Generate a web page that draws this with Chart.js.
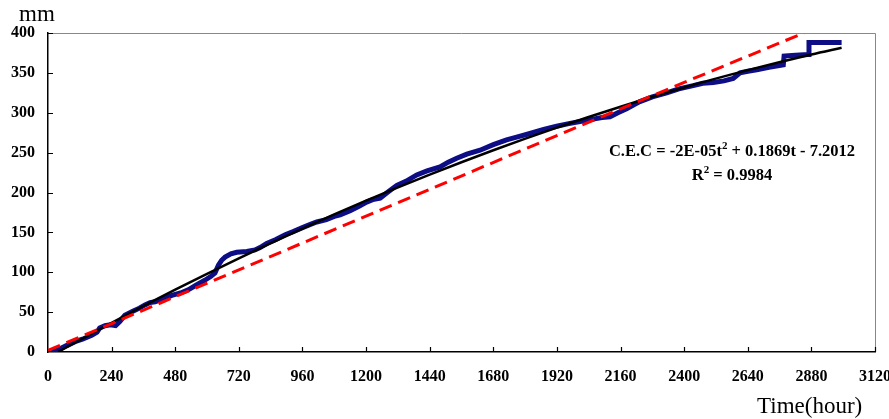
<!DOCTYPE html>
<html>
<head>
<meta charset="utf-8">
<script src="https://cdn.jsdelivr.net/npm/chart.js@4.4.1/dist/chart.umd.min.js"></script>
<style>
html, body { margin: 0; padding: 0; background: #fff; }
</style>
</head>
<body>
<canvas id="myChart" width="889" height="419"></canvas>
<script>
// observed cumulative values (blue)
const obsT = [14, 40, 70, 102, 130, 165, 185, 195, 215, 235, 255, 270, 290, 320, 345, 366, 385, 404, 430, 467,
    500, 529, 560, 592, 615, 630, 643, 655, 668, 690, 712, 750, 781, 800, 825, 860, 895, 925, 960, 990,
    1014, 1050, 1080, 1102, 1140, 1175, 1202, 1225, 1253, 1280, 1316, 1350, 1391, 1430, 1479, 1510, 1542, 1580, 1630, 1680,
    1730, 1775, 1818, 1870, 1919, 1960, 2007, 2057, 2090, 2120, 2150, 2183, 2210, 2233, 2280, 2334, 2380, 2434, 2470, 2510,
    2550, 2585, 2611, 2640, 2674, 2720, 2774, 2777, 2820, 2868, 2871, 2994];
const obsMm = [0, 3, 8, 13, 16, 21, 25, 30, 33, 34, 33, 38, 46, 51, 55, 59, 62, 63, 66, 71,
    74, 78, 84, 90, 95, 99, 109, 115, 119, 123, 125, 126, 128, 131, 136, 141, 147, 151, 156, 160,
    163, 166, 170, 172, 177, 183, 188, 191, 193, 200, 209, 214, 222, 227, 232, 238, 243, 248, 253, 260,
    266, 270, 274, 279, 283, 286, 289, 292, 294, 295, 300, 305, 310, 314, 320, 325, 330, 334, 337, 338,
    340, 343, 350, 352, 354, 357, 360, 371, 372, 373, 388, 388];

// fitted curve (black)
const fitT = [38, 240, 480, 720, 960, 1200, 1440, 1680, 1920, 2160, 2400, 2640, 2880, 2994];
const fitMm = [0, 36.6, 78.1, 117.5, 154.7, 189.7, 222.4, 253, 281.4, 307.6, 331.7, 353.4, 373.1, 381.6];

// red dashed line
const redT = [0, 720, 1440, 2160, 2880];
const redMm = [2, 103, 204, 305, 404];

const eqLeft = 'C.E.C = -2E-05t';
const eqSup = '2';
const eqRight = ' + 0.1869t - 7.2012';
const r2Text = ' = 0.9984';

function pts(xs, ys) {
    return xs.map((x, i) => ({ x: x, y: ys[i] }));
}

const tickFont = { family: "'Liberation Serif', 'Times New Roman', serif", size: 16, weight: 'bold' };

const extras = {
    id: 'extras',
    afterDraw(chart) {
        const c = chart.ctx;
        const a = chart.chartArea;
        const xs = chart.scales.x;
        const ys = chart.scales.y;
        c.save();
        // grey frame top and right
        c.strokeStyle = '#888';
        c.lineWidth = 1;
        c.beginPath();
        c.moveTo(a.left, a.top + 0.5);
        c.lineTo(a.right + 0.5, a.top + 0.5);
        c.lineTo(a.right + 0.5, a.bottom);
        c.stroke();
        // inward ticks
        c.strokeStyle = '#000';
        c.lineWidth = 1.2;
        c.beginPath();
        xs.ticks.forEach(t => {
            if (t.value === 0) return;
            const px = Math.round(xs.getPixelForValue(t.value)) + 0.5;
            c.moveTo(px, a.bottom);
            c.lineTo(px, a.bottom - 5);
        });
        ys.ticks.forEach(t => {
            if (t.value === 0) return;
            const py = Math.round(ys.getPixelForValue(t.value)) + 0.5;
            c.moveTo(a.left, py);
            c.lineTo(a.left + 5, py);
        });
        c.stroke();

        c.fillStyle = '#000';
        c.textBaseline = 'alphabetic';
        c.textAlign = 'left';
        c.font = "23px 'Liberation Serif', serif";
        c.fillText('mm', 19, 21);
        c.fillText('Time(hour)', 757, 413);

        // equation
        const big = "bold 16.5px 'Liberation Serif', serif";
        const small = "bold 11px 'Liberation Serif', serif";
        c.font = big;
        const w1 = c.measureText(eqLeft).width;
        const w3 = c.measureText(eqRight).width;
        c.font = small;
        const w2 = c.measureText(eqSup).width;
        let x = 732 - (w1 + w2 + w3) / 2;
        c.font = big;
        c.fillText(eqLeft, x, 156);
        c.font = small;
        c.fillText(eqSup, x + w1, 149);
        c.font = big;
        c.fillText(eqRight, x + w1 + w2, 156);

        const wr = c.measureText('R').width;
        const wv = c.measureText(r2Text).width;
        c.font = small;
        const ws = c.measureText('2').width;
        x = 732 - (wr + ws + wv) / 2;
        c.font = big;
        c.fillText('R', x, 180);
        c.font = small;
        c.fillText('2', x + wr, 173);
        c.font = big;
        c.fillText(r2Text, x + wr + ws, 180);
        c.restore();
    }
};

const ctx = document.getElementById('myChart');

new Chart(ctx, {
    type: 'line',
    data: {
        datasets: [
            {
                label: 'model',
                data: pts(redT, redMm),
                borderColor: '#ff0000',
                borderWidth: 3,
                borderDash: [13, 7],
                pointRadius: 0,
                fill: false,
                order: 1
            },
            {
                label: 'fit',
                data: pts(fitT, fitMm),
                borderColor: '#000000',
                borderWidth: 2.5,
                pointRadius: 0,
                cubicInterpolationMode: 'monotone',
                fill: false,
                order: 2
            },
            {
                label: 'observed',
                data: pts(obsT, obsMm),
                borderColor: '#0d0d85',
                borderWidth: 5,
                pointRadius: 0,
                tension: 0,
                fill: false,
                order: 3
            }
        ]
    },
    options: {
        responsive: false,
        animation: false,
        layout: { padding: { left: 0, right: 14, top: 33, bottom: 0 } },
        plugins: {
            legend: { display: false },
            tooltip: { enabled: false }
        },
        scales: {
            x: {
                type: 'linear',
                min: 0,
                max: 3120,
                ticks: { stepSize: 240, color: '#000', font: tickFont, padding: 15, maxRotation: 0, autoSkip: false,
                    callback: v => String(v) },
                grid: { display: false, drawTicks: false },
                border: { color: '#000', width: 1.5 },
                afterFit(s) { s.height = 67; s.paddingLeft = 0; s.paddingRight = 0; }
            },
            y: {
                min: 0,
                max: 400,
                ticks: { stepSize: 50, color: '#000', font: tickFont, padding: 13, callback: v => String(v) },
                grid: { display: false, drawTicks: false },
                border: { color: '#000', width: 1.5 },
                afterFit(s) { s.width = 48; }
            }
        }
    },
    plugins: [extras]
});
</script>
</body>
</html>
